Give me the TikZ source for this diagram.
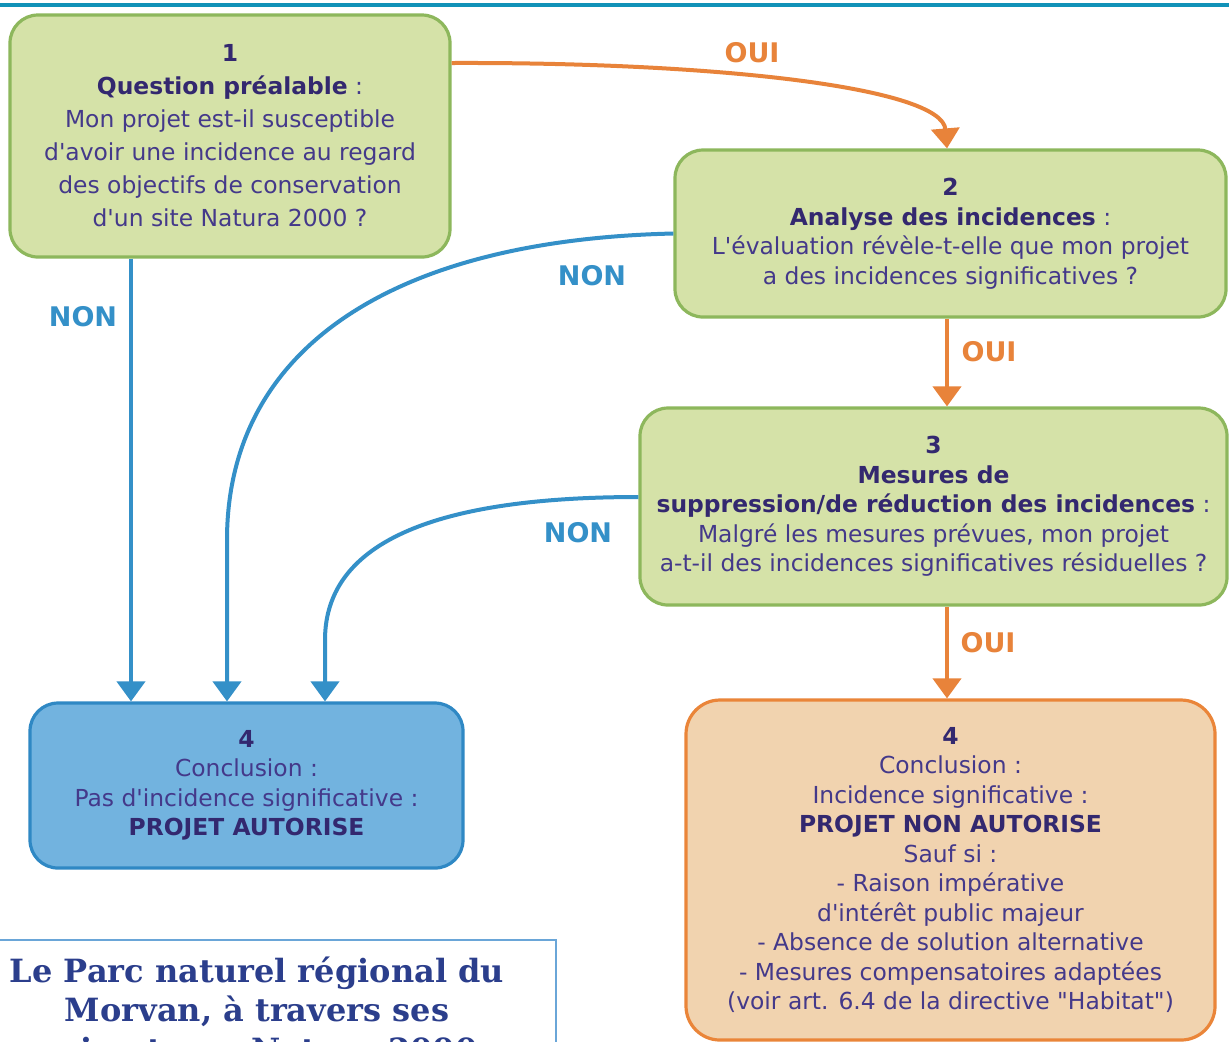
\documentclass[tikz,border=0pt]{standalone}
\usepackage{fontspec}
\setmainfont{DejaVu Sans}
\newfontfamily\bodyfont{DejaVu Sans}
\newfontfamily\slabfont{DejaVu Serif}
\usetikzlibrary{arrows.meta}
\definecolor{topline}{HTML}{1192B8}
\definecolor{gfill}{HTML}{D5E2A8}
\definecolor{gdraw}{HTML}{8DB75C}
\definecolor{bfill}{HTML}{72B3DF}
\definecolor{bdraw}{HTML}{2F88C4}
\definecolor{ofill}{HTML}{F1D3AF}
\definecolor{odraw}{HTML}{EA8539}
\definecolor{oarrow}{HTML}{E8833A}
\definecolor{narrow}{HTML}{3490C8}
\definecolor{txt}{HTML}{44398A}
\definecolor{txtb}{HTML}{33286F}
\definecolor{slabtxt}{HTML}{2B3E8C}
\definecolor{framebl}{HTML}{6AA6D8}
\newcommand\hdr[1]{{\bfseries\color{txtb}#1}}
\begin{document}
\begin{tikzpicture}[x=0.5pt,y=-0.5pt,
  box/.style={line width=1.6pt, rounded corners=14pt, align=center, inner sep=0pt, text=txt,
    font=\bodyfont\fontsize{11.7pt}{14.75pt}\selectfont},
  greenbox/.style={box, draw=gdraw, fill=gfill},
  bluebox/.style={box, draw=bdraw, fill=bfill},
  orangebox/.style={box, draw=odraw, fill=ofill, rounded corners=17pt},
  oui/.style={draw=oarrow, line width=2pt, -{Triangle[width=14pt,length=10pt]}},
  non/.style={draw=narrow, line width=2pt, -{Triangle[width=14pt,length=10pt]}},
  ouilbl/.style={text=oarrow, font=\bodyfont\fontsize{13.5pt}{16pt}\selectfont\bfseries, inner sep=0pt},
  nonlbl/.style={text=narrow, font=\bodyfont\fontsize{13.5pt}{16pt}\selectfont\bfseries, inner sep=0pt},
  slab/.style={text=slabtxt, font=\slabfont\fontsize{16pt}{20pt}\selectfont\bfseries, anchor=base, inner sep=0pt}
]
\useasboundingbox (0,0) rectangle (1229,1041);
\clip (0,0) rectangle (1229,1041);
\fill[white] (0,0) rectangle (1229,1041);

% top rule
\draw[topline, line width=2pt] (0,4.5) -- (1229,4.5);

% boxes
\node[greenbox, minimum width=220pt, minimum height=121pt,
  font=\bodyfont\fontsize{11.7pt}{16.5pt}\selectfont] (b1) at (230,136)
  {\hdr{1}\\ \hdr{Question préalable} :\\ Mon projet est-il susceptible\\ d'avoir une incidence au regard\\ des objectifs de conservation\\ d'un site Natura 2000 ?};

\node[greenbox, minimum width=275.5pt, minimum height=83.5pt] (b2) at (950.5,233.5)
  {\hdr{2}\\ \hdr{Analyse des incidences} :\\ L'évaluation révèle-t-elle que mon projet\\ a des incidences significatives ?};

\node[greenbox, minimum width=293.5pt, minimum height=98.5pt] (b3) at (933.5,506.5)
  {\hdr{3}\\ \hdr{Mesures de}\\ \hdr{suppression/de réduction des incidences} :\\ Malgré les mesures prévues, mon projet\\ a-t-il des incidences significatives résiduelles ?};

\node[bluebox, minimum width=216.5pt, minimum height=82.5pt] (b4a) at (246.5,785.5)
  {\hdr{4}\\ Conclusion :\\ Pas d'incidence significative :\\ \hdr{PROJET AUTORISE}};

\node[orangebox, minimum width=264.5pt, minimum height=170pt] (b4b) at (950.5,870)
  {\hdr{4}\\ Conclusion :\\ Incidence significative :\\ \hdr{PROJET NON AUTORISE}\\ Sauf si :\\ - Raison impérative\\ d'intérêt public majeur\\ - Absence de solution alternative\\ - Mesures compensatoires adaptées\\ (voir art. 6.4 de la directive "Habitat")};

% connectors
\coordinate (c1) at (131,0);
\coordinate (c2) at (227,0);
\coordinate (c3) at (325,0);
\coordinate (c4) at (947,0);

\draw[oui] ([yshift=36.5pt]b1.east) .. controls (720,62) and (942,88) .. (c4 |- b2.north);
\draw[oui] (c4 |- b2.south) -- (c4 |- b3.north);
\draw[oui] (c4 |- b3.south) -- (c4 |- b4b.north);

\draw[non] (c1 |- b1.south) -- (c1 |- b4a.north);
\draw[non] (b2.west) .. controls (390,240) and (227,350) .. (227,540) -- (c2 |- b4a.north);
\draw[non] ([yshift=4.75pt]b3.west) .. controls (440,497) and (325,540) .. (325,640) -- (c3 |- b4a.north);

% labels
\node[ouilbl] (l1) at (752,53) {OUI};
\node[ouilbl] (l2) at (989,352) {OUI};
\node[ouilbl] (l3) at (988,643) {OUI};
\node[nonlbl] (l4) at (83,317) {NON};
\node[nonlbl] (l5) at (592,276) {NON};
\node[nonlbl] (l6) at (578,533) {NON};

% bottom text box
\draw[framebl, line width=0.6pt] (-2,940) rectangle (556,1080);
\node[slab] (t1) at (257,982) {Le Parc naturel régional du};
\node[slab] (t2) at (257,1021) {Morvan, à travers ses};
\node[slab] (t3) at (257,1061) {animateurs Natura 2000};
\end{tikzpicture}
\end{document}
